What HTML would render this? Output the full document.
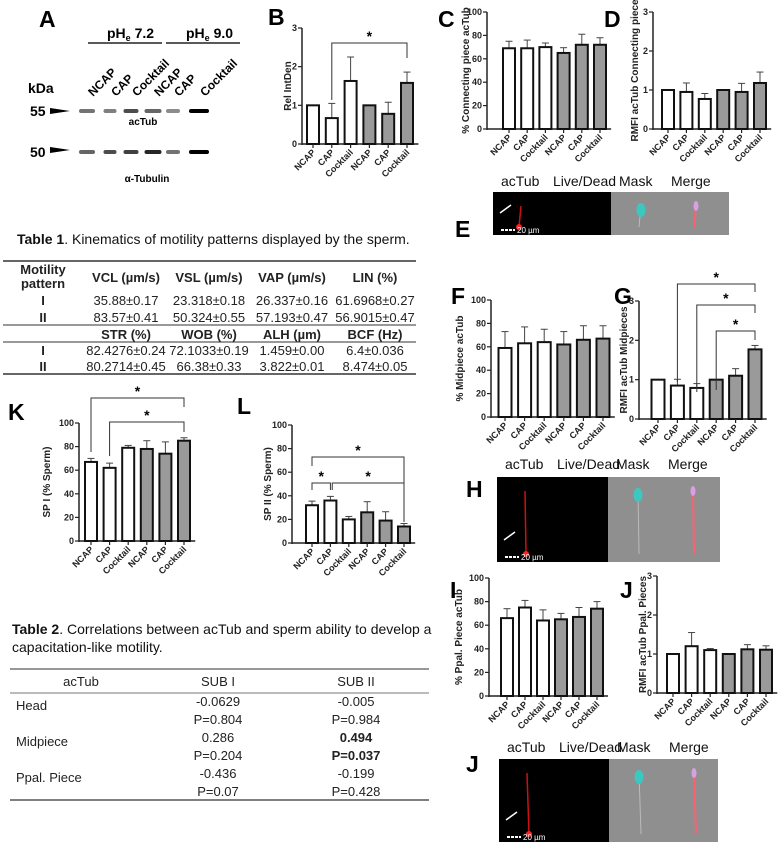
<!DOCTYPE html>
<html><head><meta charset="utf-8">
<style>
html,body{margin:0;padding:0;background:#fff;}
svg{display:block;font-family:"Liberation Sans",Arial,sans-serif;}
.pl{font-weight:bold;font-size:23px;fill:#000;}
.tk{font-size:9px;font-weight:bold;fill:#222;}
.cat{font-size:9px;font-weight:bold;fill:#222;}
.yl{font-size:10px;font-weight:bold;fill:#222;}
.tb{font-size:13px;fill:#222;}
.tbb{font-size:13px;fill:#222;font-weight:bold;}
.im{font-size:14px;fill:#111;}
</style></head>
<body>
<svg id="fig" width="781" height="845" viewBox="0 0 781 845" xmlns="http://www.w3.org/2000/svg">
<defs>
<radialGradient id="rg"><stop offset="0" stop-color="#ff3030"/><stop offset="1" stop-color="#ff0000" stop-opacity="0"/></radialGradient>
</defs>

<!-- Panel A western blot -->
<g>
<text class="pl" x="39" y="27">A</text>
<text x="107" y="38" font-size="14" font-weight="bold">pH<tspan font-size="9" dy="3">e</tspan><tspan dy="-3"> 7.2</tspan></text>
<text x="186" y="38" font-size="14" font-weight="bold">pH<tspan font-size="9" dy="3">e</tspan><tspan dy="-3"> 9.0</tspan></text>
<line x1="88" y1="43" x2="162" y2="43" stroke="#222" stroke-width="1.5"/>
<line x1="166" y1="43" x2="240" y2="43" stroke="#222" stroke-width="1.5"/>
<text x="28" y="93" font-size="14" font-weight="bold">kDa</text>
<text x="30" y="116" font-size="14" font-weight="bold">55</text>
<polygon points="50,108 70,111 50,114" fill="#000"/>
<text x="30" y="157" font-size="14" font-weight="bold">50</text>
<polygon points="50,147 70,150 50,153" fill="#000"/>
<g id="lanes"></g>
<text x="143" y="125" font-size="10" font-weight="bold" text-anchor="middle">acTub</text>
<text x="147" y="182" font-size="10" font-weight="bold" text-anchor="middle">α-Tubulin</text>
</g>

<!-- Table 1 -->
<g>
<text x="17" y="244" font-size="14" fill="#111"><tspan font-weight="bold">Table 1</tspan>. Kinematics of motility patterns displayed by the sperm.</text>
<line x1="3" y1="261" x2="416" y2="261" stroke="#333" stroke-width="1.5"/>
<text class="tbb" x="43" y="274" text-anchor="middle">Motility</text>
<text class="tbb" x="43" y="288" text-anchor="middle">pattern</text>
<text class="tbb" x="126" y="282" text-anchor="middle">VCL (µm/s)</text>
<text class="tbb" x="209" y="282" text-anchor="middle">VSL (µm/s)</text>
<text class="tbb" x="292" y="282" text-anchor="middle">VAP (µm/s)</text>
<text class="tbb" x="375" y="282" text-anchor="middle">LIN (%)</text>
<text class="tbb" x="43" y="305" text-anchor="middle">I</text>
<text class="tb" x="126" y="305" text-anchor="middle">35.88±0.17</text>
<text class="tb" x="209" y="305" text-anchor="middle">23.318±0.18</text>
<text class="tb" x="292" y="305" text-anchor="middle">26.337±0.16</text>
<text class="tb" x="375" y="305" text-anchor="middle">61.6968±0.27</text>
<text class="tbb" x="43" y="322" text-anchor="middle">II</text>
<text class="tb" x="126" y="322" text-anchor="middle">83.57±0.41</text>
<text class="tb" x="209" y="322" text-anchor="middle">50.324±0.55</text>
<text class="tb" x="292" y="322" text-anchor="middle">57.193±0.47</text>
<text class="tb" x="375" y="322" text-anchor="middle">56.9015±0.47</text>
<line x1="3" y1="325" x2="416" y2="325" stroke="#333" stroke-width="1"/>
<text class="tbb" x="126" y="339" text-anchor="middle">STR (%)</text>
<text class="tbb" x="209" y="339" text-anchor="middle">WOB (%)</text>
<text class="tbb" x="292" y="339" text-anchor="middle">ALH (µm)</text>
<text class="tbb" x="375" y="339" text-anchor="middle">BCF (Hz)</text>
<line x1="3" y1="342" x2="416" y2="342" stroke="#333" stroke-width="1"/>
<text class="tbb" x="43" y="355" text-anchor="middle">I</text>
<text class="tb" x="126" y="355" text-anchor="middle">82.4276±0.24</text>
<text class="tb" x="209" y="355" text-anchor="middle">72.1033±0.19</text>
<text class="tb" x="292" y="355" text-anchor="middle">1.459±0.00</text>
<text class="tb" x="375" y="355" text-anchor="middle">6.4±0.036</text>
<text class="tbb" x="43" y="371" text-anchor="middle">II</text>
<text class="tb" x="126" y="371" text-anchor="middle">80.2714±0.45</text>
<text class="tb" x="209" y="371" text-anchor="middle">66.38±0.33</text>
<text class="tb" x="292" y="371" text-anchor="middle">3.822±0.01</text>
<text class="tb" x="375" y="371" text-anchor="middle">8.474±0.05</text>
<line x1="3" y1="374" x2="416" y2="374" stroke="#333" stroke-width="1.5"/>
</g>

<!-- Table 2 -->
<g>
<text x="12" y="634" font-size="14" fill="#111"><tspan font-weight="bold">Table 2</tspan>. Correlations between acTub and sperm ability to develop a</text>
<text x="12" y="652" font-size="14" fill="#111">capacitation-like motility.</text>
<line x1="10" y1="669" x2="429" y2="669" stroke="#777" stroke-width="1.5"/>
<text class="tb" x="81" y="686" text-anchor="middle">acTub</text>
<text class="tb" x="218" y="686" text-anchor="middle">SUB I</text>
<text class="tb" x="356" y="686" text-anchor="middle">SUB II</text>
<line x1="10" y1="693" x2="429" y2="693" stroke="#777" stroke-width="1"/>
<text class="tb" x="16" y="710">Head</text>
<text class="tb" x="218" y="706" text-anchor="middle">-0.0629</text>
<text class="tb" x="218" y="724" text-anchor="middle">P=0.804</text>
<text class="tb" x="356" y="706" text-anchor="middle">-0.005</text>
<text class="tb" x="356" y="724" text-anchor="middle">P=0.984</text>
<text class="tb" x="16" y="746">Midpiece</text>
<text class="tb" x="218" y="742" text-anchor="middle">0.286</text>
<text class="tb" x="218" y="760" text-anchor="middle">P=0.204</text>
<text class="tbb" x="356" y="742" text-anchor="middle">0.494</text>
<text class="tbb" x="356" y="760" text-anchor="middle">P=0.037</text>
<text class="tb" x="16" y="782">Ppal. Piece</text>
<text class="tb" x="218" y="778" text-anchor="middle">-0.436</text>
<text class="tb" x="218" y="796" text-anchor="middle">P=0.07</text>
<text class="tb" x="356" y="778" text-anchor="middle">-0.199</text>
<text class="tb" x="356" y="796" text-anchor="middle">P=0.428</text>
<line x1="10" y1="800" x2="429" y2="800" stroke="#555" stroke-width="1.5"/>
</g>

<g id="charts"></g>
<g id="images"></g>
</svg>

<script>
// ---- chart data ----
const categories = ["NCAP","CAP","Cocktail","NCAP","CAP","Cocktail"];
const bValues = [1, 0.67, 1.63, 1, 0.78, 1.58];
const bErrors = [0, 0.38, 0.62, 0, 0.3, 0.28];
const cValues = [69, 69, 70, 65, 72, 72];
const cErrors = [6, 7, 3.5, 4.5, 9, 6];
const dValues = [1, 0.95, 0.77, 1, 0.95, 1.18];
const dErrors = [0, 0.23, 0.14, 0, 0.22, 0.28];
const fValues = [59, 63, 64, 62, 66, 67];
const fErrors = [14, 14, 11, 11, 12, 11];
const gValues = [1, 0.85, 0.79, 1, 1.1, 1.77];
const gErrors = [0, 0.16, 0.11, 0, 0.18, 0.1];
const iValues = [66, 75, 64, 65, 67, 74];
const iErrors = [8, 6, 9, 5, 8, 6];
const jValues = [1, 1.2, 1.1, 1, 1.12, 1.11];
const jErrors = [0, 0.35, 0.04, 0, 0.12, 0.1];
const kValues = [67, 62, 79, 78, 74, 85];
const kErrors = [3, 4, 2, 7, 10, 2.5];
const lValues = [32, 36, 20, 26, 19, 14];
const lErrors = [3.5, 3.5, 2.5, 9, 7.5, 2.5];
const ticks100 = [0, 20, 40, 60, 80, 100];
const ticks3 = [0, 1, 2, 3];
const bandIntensity55 = [0.55, 0.5, 0.7, 0.6, 0.45, 1.0];
const bandIntensity50 = [0.6, 0.7, 0.75, 0.85, 0.55, 1.0];

const NS = "http://www.w3.org/2000/svg";
function el(tag, attrs, parent) {
  const e = document.createElementNS(NS, tag);
  for (const k in attrs) e.setAttribute(k, attrs[k]);
  parent.appendChild(e);
  return e;
}

// blot lanes
const lanes = document.getElementById("lanes");
const laneX = [87, 110, 131, 153, 173, 199];
const laneW = [16, 13, 15, 17, 14, 20];
categories.forEach((c, i) => {
  const t = el("text", {x: laneX[i] + 6, y: 97, "font-size": 12, "font-weight": "bold", transform: `rotate(-45 ${laneX[i] + 6} 97)`}, lanes);
  t.textContent = c;
  
  
  const b1 = el("rect", {x: laneX[i] - laneW[i] / 2, y: 109, width: laneW[i], height: 4, rx: 2, fill: "#000", opacity: bandIntensity55[i]}, lanes);
  
  
  const b2 = el("rect", {x: laneX[i] - laneW[i] / 2, y: 150, width: laneW[i], height: 4, rx: 2, fill: "#000", opacity: bandIntensity50[i]}, lanes);
  
  
});

const charts = document.getElementById("charts");
function barChart(o) {
  const g = el("g", {}, charts);
  
  
  const yScale = v => o.y0 - (v / o.max) * (o.y0 - o.yTop);
  const xScale = i => o.x0 + i * o.step;
  // y axis
  el("line", {x1: o.ax, y1: o.yTop, x2: o.ax, y2: o.y0 + 1, stroke: "#222", "stroke-width": 1.5}, g);
  el("line", {x1: o.ax, y1: o.y0, x2: xScale(5) + o.step / 2 + 2, y2: o.y0, stroke: "#222", "stroke-width": 1.5}, g);
  o.ticks.forEach(t => {
    const y = yScale(t);
    el("line", {x1: o.ax - 4, y1: y, x2: o.ax, y2: y, stroke: "#222", "stroke-width": 1.2}, g);
    const tx = el("text", {x: o.ax - 5, y: y + 3, "text-anchor": "end", class: "tk"}, g);
    tx.textContent = t;
  });
  const yl = el("text", {x: o.lx, y: (o.y0 + o.yTop) / 2, "text-anchor": "middle", class: "yl", transform: `rotate(-90 ${o.lx} ${(o.y0 + o.yTop) / 2})`}, g);
  yl.textContent = o.ylabel;
  
  
  o.values.forEach((v, i) => {
    const cx = xScale(i);
    const yv = yScale(v);
    const err = o.errors[i];
    if (err > 0) {
      const ye = yScale(v + err);
      el("line", {x1: cx, y1: yv, x2: cx, y2: ye, stroke: "#444", "stroke-width": 1}, g);
      el("line", {x1: cx - 3.5, y1: ye, x2: cx + 3.5, y2: ye, stroke: "#444", "stroke-width": 1}, g);
    }
    const r = el("rect", {x: cx - o.bw / 2, y: yv, width: o.bw, height: o.y0 - yv, fill: i < 3 ? "#fff" : "#9a9a9a", stroke: "#111", "stroke-width": 2}, g);
    
    
    el("line", {x1: cx, y1: o.y0, x2: cx, y2: o.y0 + 4, stroke: "#222", "stroke-width": 1.2}, g);
    if (o.cats !== false) {
      const ct = el("text", {x: cx + 3, y: o.y0 + 9, "text-anchor": "end", class: "cat", transform: `rotate(-45 ${cx + 3} ${o.y0 + 9})`}, g);
      ct.textContent = categories[i];
      
      
    }
  });
  (o.brackets || []).forEach(b => {
    const x1 = xScale(b[0]), x2 = xScale(b[1]), y = b[2];
    el("path", {d: `M${x1} ${b[3]} V${y} H${x2} V${b[4]}`, fill: "none", stroke: "#333", "stroke-width": 1}, g);
    const s = el("text", {x: (x1 + x2) / 2, y: y - 2, "text-anchor": "middle", "font-size": 14, "font-weight": "bold"}, g);
    s.textContent = "*";
    
    
  });
  const L = el("text", {x: o.letter[0], y: o.letter[1], class: "pl"}, g);
  L.textContent = o.letter[2];
  
  
}

barChart({name: "panel-b-chart", ax: 302, y0: 144, yTop: 28, max: 3, ticks: ticks3, x0: 313, step: 18.8, bw: 12, values: bValues, errors: bErrors, ylabel: "Rel IntDen", lx: 291, letter: [268, 25, "B"], brackets: [[1, 5, 43, 100, 58]]});
barChart({name: "panel-c-chart", ax: 487, y0: 129, yTop: 12, max: 100, ticks: ticks100, x0: 509, step: 18.2, bw: 12, values: cValues, errors: cErrors, ylabel: "% Connecting piece acTub", lx: 469, letter: [438, 27, "C"]});
barChart({name: "panel-d-chart", ax: 653, y0: 129, yTop: 12, max: 3, ticks: ticks3, x0: 668, step: 18.4, bw: 12, values: dValues, errors: dErrors, ylabel: "RMFI acTub Connecting piece", lx: 638, letter: [604, 27, "D"]});
barChart({name: "panel-f-chart", ax: 491, y0: 417, yTop: 300, max: 100, ticks: ticks100, x0: 505, step: 19.6, bw: 13, values: fValues, errors: fErrors, ylabel: "% Midpiece acTub", lx: 463, letter: [451, 304, "F"]});
barChart({name: "panel-g-chart", ax: 639, y0: 419, yTop: 301, max: 3, ticks: ticks3, x0: 658, step: 19.4, bw: 13, values: gValues, errors: gErrors, ylabel: "RMFI acTub Midpieces", lx: 627, letter: [614, 304, "G"], brackets: [[1, 5, 284, 382, 292], [2, 5, 305, 392, 313], [3, 5, 331, 390, 340]]});
barChart({name: "panel-i-chart", ax: 489, y0: 696, yTop: 578, max: 100, ticks: ticks100, x0: 507, step: 18, bw: 12, values: iValues, errors: iErrors, ylabel: "% Ppal. Piece acTub", lx: 462, letter: [450, 598, "I"]});
barChart({name: "panel-j-chart", ax: 657, y0: 693, yTop: 576, max: 3, ticks: ticks3, x0: 673, step: 18.6, bw: 12, values: jValues, errors: jErrors, ylabel: "RMFI acTub Ppal. Pieces", lx: 646, letter: [620, 598, "J"]});
barChart({name: "panel-k-chart", ax: 79, y0: 541, yTop: 423, max: 100, ticks: ticks100, x0: 91, step: 18.6, bw: 12, values: kValues, errors: kErrors, ylabel: "SP I (% Sperm)", lx: 50, letter: [8, 420, "K"], brackets: [[0, 5, 398, 452, 407], [1, 5, 422, 456, 432]]});
barChart({name: "panel-l-chart", ax: 292, y0: 543, yTop: 425, max: 100, ticks: ticks100, x0: 312, step: 18.4, bw: 12, values: lValues, errors: lErrors, ylabel: "SP II (% Sperm)", lx: 271, letter: [237, 414, "L"], brackets: [[0, 5, 457, 466, 520], [0, 1, 483, 490, 490], [1.1, 5, 483, 490, 522]]});

// microscopy panels
const images = document.getElementById("images");
function microscopy(name, letter, lx, ly, x0, xm, x1, y0, y1, labY, tailDx) {
  const g = el("g", {}, images);
  
  
  const labs = [["acTub", x0 + 8], ["Live/Dead", x0 + 60], ["Mask", xm + 8], ["Merge", xm + 60]];
  labs.forEach(l => {
    const t = el("text", {x: l[1], y: labY, class: "im", "font-size": l[0] === "Live/Dead" || l[0] === "Mask" ? 12 : 14}, g);
    t.textContent = l[0];
  });
  el("rect", {x: x0, y: y0, width: xm - x0, height: y1 - y0, fill: "#000"}, g);
  el("rect", {x: xm, y: y0, width: x1 - xm, height: y1 - y0, fill: "#8f8f8f"}, g);
  const sx = x0 + 28, mx = xm + 30, gx = xm + 85;
  el("line", {x1: sx, y1: y0 + 14, x2: sx + tailDx, y2: y1 - 8, stroke: "#d01010", "stroke-width": 1.5}, g);
  el("circle", {cx: sx + tailDx, cy: y1 - 8, r: 3, fill: "#ff2020"}, g);
  el("line", {x1: mx, y1: y0 + 14, x2: mx + tailDx, y2: y1 - 8, stroke: "#bbb", "stroke-width": 1}, g);
  el("ellipse", {cx: mx, cy: y0 + 18, rx: 4.5, ry: 7, fill: "#3cc8c0"}, g);
  el("line", {x1: gx, y1: y0 + 14, x2: gx + tailDx, y2: y1 - 8, stroke: "#ff6070", "stroke-width": 2}, g);
  el("ellipse", {cx: gx, cy: y0 + 14, rx: 2.5, ry: 5, fill: "#d8a0e0"}, g);
  el("line", {x1: x0 + 7, y1: y1 - 22, x2: x0 + 18, y2: y1 - 30, stroke: "#fff", "stroke-width": 1.5}, g);
  el("line", {x1: x0 + 8, y1: y1 - 5, x2: x0 + 22, y2: y1 - 5, stroke: "#fff", "stroke-width": 2, "stroke-dasharray": "3,1"}, g);
  const sb = el("text", {x: x0 + 24, y: y1 - 2, fill: "#fff", "font-size": 8}, g);
  sb.textContent = "20 µm";
  const L = el("text", {x: lx, y: ly, class: "pl"}, g);
  L.textContent = letter;
}
microscopy("panel-e-microscopy", "E", 455, 237, 493, 611, 729, 192, 235, 186, -2);
microscopy("panel-h-microscopy", "H", 466, 497, 497, 608, 720, 477, 562, 469, 1);
microscopy("panel-j-microscopy", "J", 466, 772, 499, 609, 718, 759, 842, 752, 2);
</script>
</body></html>
